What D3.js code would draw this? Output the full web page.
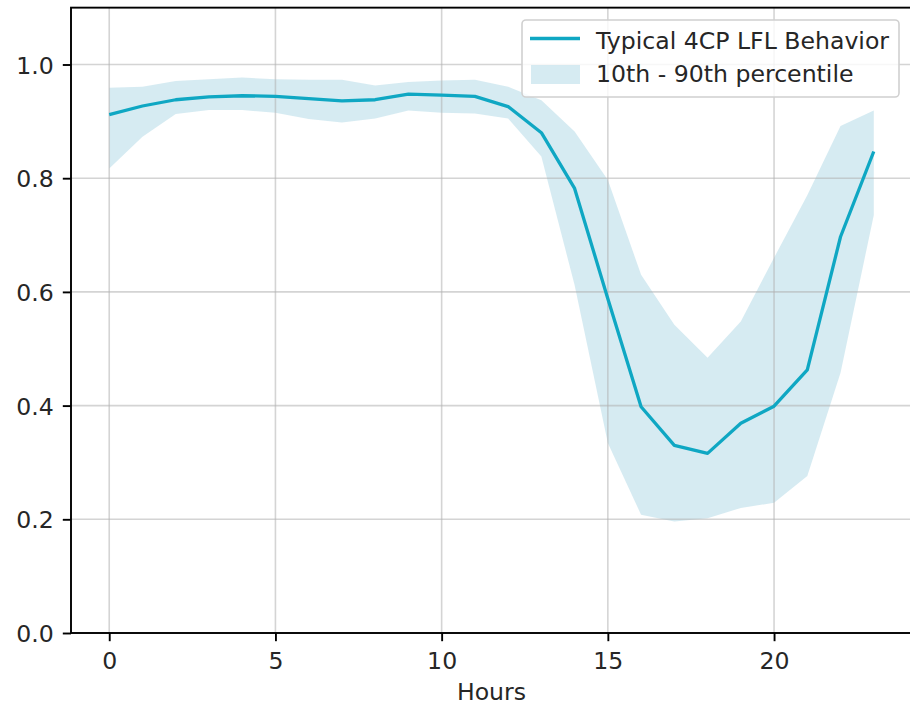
<!DOCTYPE html>
<html>
<head>
<meta charset="utf-8">
<script src="https://cdn.jsdelivr.net/npm/d3@7"></script>
<style>
  html, body { margin: 0; padding: 0; background: #fff; }
  svg { display: block; font-family: "DejaVu Sans", sans-serif; }
</style>
</head>
<body>
<svg id="chart" width="910" height="705"></svg>
<script>
const hours = d3.range(0, 24);
const meanLFL = [0.912, 0.927, 0.938, 0.943, 0.945, 0.944, 0.940, 0.936, 0.938, 0.948, 0.946, 0.944,
                 0.926, 0.880, 0.782, 0.588, 0.398, 0.330, 0.316, 0.369, 0.399, 0.463, 0.697, 0.847];
const p90 = [0.959, 0.961, 0.971, 0.974, 0.977, 0.974, 0.973, 0.973, 0.963, 0.969, 0.972, 0.973,
             0.961, 0.937, 0.882, 0.797, 0.630, 0.542, 0.484, 0.548, 0.660, 0.770, 0.892, 0.919];
const p10 = [0.817, 0.873, 0.913, 0.920, 0.920, 0.915, 0.904, 0.898, 0.905, 0.919, 0.915, 0.914,
             0.905, 0.838, 0.612, 0.334, 0.208, 0.196, 0.202, 0.220, 0.229, 0.276, 0.458, 0.735];
const xTicks = [0, 5, 10, 15, 20];
const yTicks = [0.0, 0.2, 0.4, 0.6, 0.8, 1.0];
const legendLabels = ["Typical 4CP LFL Behavior", "10th - 90th percentile"];
const xLabel = "Hours";

const lineColor = "#0fa7c3";
const bandColor = "#add8e6";
const fontSize = 23.6;

const svg = d3.select("#chart");
const L = 71, R = 912, T = 7.65, B = 633;
const x = d3.scaleLinear().domain([-1.15, 24.15]).range([L, R]);
const y = d3.scaleLinear().domain([0, 1.1]).range([B, T]);

const data = hours.map((h, i) => ({h, m: meanLFL[i], lo: p10[i], hi: p90[i]}));

// band
svg.append("path")
  .datum(data)
  .attr("d", d3.area().x(d => x(d.h)).y0(d => y(d.lo)).y1(d => y(d.hi)))
  .attr("fill", bandColor)
  .attr("fill-opacity", 0.5);

// grid
const grid = svg.append("g");
grid.selectAll("line.gx").data(xTicks).join("line")
  .attr("x1", d => x(d)).attr("x2", d => x(d)).attr("y1", T).attr("y2", B)
  .attr("stroke", "#b0b0b0").attr("stroke-opacity", 0.55).attr("stroke-width", 1.6);
grid.selectAll("line.gy").data(yTicks).join("line")
  .attr("y1", d => y(d)).attr("y2", d => y(d)).attr("x1", L).attr("x2", R)
  .attr("stroke", "#b0b0b0").attr("stroke-opacity", 0.55).attr("stroke-width", 1.6);

// line
svg.append("path")
  .datum(data)
  .attr("d", d3.line().x(d => x(d.h)).y(d => y(d.m)))
  .attr("fill", "none")
  .attr("stroke", lineColor)
  .attr("stroke-width", 3.3)
  .attr("stroke-linejoin", "round")
  .attr("stroke-linecap", "butt");

// axes
const xAxis = d3.axisBottom(x).tickValues(xTicks).tickFormat(d3.format("d")).tickSize(8.2).tickPadding(8);
const yAxis = d3.axisLeft(y).tickValues(yTicks).tickFormat(d3.format(".1f")).tickSize(8.2).tickPadding(9);

const gx = svg.append("g").attr("transform", `translate(0,${B})`).call(xAxis);
const gy = svg.append("g").attr("transform", `translate(${L},0)`).call(yAxis);
[gx, gy].forEach(g => {
  g.select(".domain").remove();
  g.selectAll(".tick line").attr("stroke", "#000").attr("stroke-width", 1.9);
  g.selectAll(".tick text").attr("fill", "#262626").attr("font-size", fontSize)
    .attr("font-family", "DejaVu Sans, sans-serif");
});
gx.selectAll(".tick text").attr("dy", null).attr("y", 36);
gy.selectAll(".tick text").attr("dy", "0.36em");

// spines
svg.append("rect")
  .attr("x", L).attr("y", T).attr("width", R - L).attr("height", B - T)
  .attr("fill", "none").attr("stroke", "#000").attr("stroke-width", 1.9);

// x label
svg.append("text")
  .attr("x", (L + R) / 2).attr("y", 700)
  .attr("text-anchor", "middle")
  .attr("font-size", fontSize).attr("fill", "#262626")
  .text(xLabel);

// legend
const lg = svg.append("g");
lg.append("rect")
  .attr("x", 522).attr("y", 20).attr("width", 377).attr("height", 77)
  .attr("rx", 4).attr("ry", 4)
  .attr("fill", "#fff").attr("fill-opacity", 0.8)
  .attr("stroke", "#d0d0d0").attr("stroke-width", 1.6);
lg.append("line")
  .attr("x1", 530).attr("x2", 580).attr("y1", 38.5).attr("y2", 38.5)
  .attr("stroke", lineColor).attr("stroke-width", 3.3);
lg.append("rect")
  .attr("x", 531).attr("y", 65).attr("width", 49).attr("height", 19)
  .attr("fill", bandColor).attr("fill-opacity", 0.5);
lg.selectAll("text.lt").data(legendLabels).join("text")
  .attr("x", 596).attr("y", (d, i) => 48.5 + i * 33.3)
  .attr("font-size", fontSize).attr("fill", "#262626")
  .text(d => d);
</script>
</body>
</html>
